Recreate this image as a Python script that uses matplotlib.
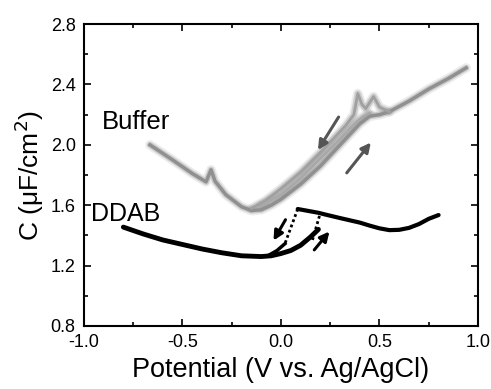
import numpy as np
import matplotlib.pyplot as plt
from matplotlib.ticker import MultipleLocator

plt.rcParams['font.family'] = ['Liberation Sans', 'DejaVu Sans']
plt.rcParams['axes.unicode_minus'] = False

# buffer, forward scan (lower branch)
buf_fx = [-0.665, -0.55, -0.45, -0.38, -0.355, -0.335, -0.28, -0.2, -0.15, -0.1, -0.05,
          0.0, 0.05, 0.1, 0.15, 0.2, 0.25, 0.3, 0.35, 0.4, 0.45, 0.5, 0.55, 0.65, 0.75, 0.85, 0.94]
buf_fy = [2.0, 1.9, 1.81, 1.755, 1.835, 1.76, 1.67, 1.59, 1.565, 1.57, 1.6,
          1.64, 1.69, 1.74, 1.8, 1.86, 1.93, 2.0, 2.07, 2.14, 2.19, 2.2, 2.22, 2.29, 2.37, 2.44, 2.51]
# buffer, reverse scan (upper branch)
buf_rx = [0.55, 0.5, 0.47, 0.43, 0.41, 0.39, 0.37, 0.33, 0.28, 0.2, 0.1, 0.0, -0.08, -0.15]
buf_ry = [2.22, 2.25, 2.32, 2.24, 2.27, 2.34, 2.2, 2.13, 2.06, 1.95, 1.82, 1.71, 1.63, 1.58]
buf_mx = [0.45, 0.42, 0.38, 0.3, 0.2, 0.1, 0.0, -0.1]
buf_my = [2.21, 2.19, 2.15, 2.04, 1.91, 1.78, 1.67, 1.6]

# DDAB, forward scan
dd_fx = [-0.8, -0.7, -0.6, -0.5, -0.4, -0.3, -0.2, -0.1, -0.05, 0.0, 0.05, 0.1, 0.15, 0.19]
dd_fy = [1.455, 1.41, 1.37, 1.34, 1.31, 1.285, 1.265, 1.26, 1.265, 1.28, 1.3, 1.335, 1.39, 1.44]
# DDAB, reverse scan
dd_rx = [0.8, 0.75, 0.7, 0.65, 0.6, 0.55, 0.5, 0.45, 0.4, 0.3, 0.22, 0.19, 0.085]
dd_ry = [1.535, 1.51, 1.475, 1.45, 1.437, 1.435, 1.447, 1.465, 1.485, 1.515, 1.54, 1.55, 1.575]
dd_rtail_x = [0.02, -0.02, -0.06]
dd_rtail_y = [1.345, 1.3, 1.27]
# fast jumps drawn dotted
jump1_x = [0.085, 0.02]
jump1_y = [1.575, 1.345]
jump2_x = [0.16, 0.2]
jump2_y = [1.37, 1.55]

fig = plt.figure(figsize=(4.91, 3.89), dpi=100)
ax = fig.add_axes([0.171, 0.162, 0.8025, 0.776])

for w, a in [(7, 0.15), (4.5, 0.35)]:
    ax.plot(buf_fx, buf_fy, color='#8c8c8c', lw=w, alpha=a, solid_capstyle='round')
    ax.plot(buf_rx, buf_ry, color='#8c8c8c', lw=w, alpha=a, solid_capstyle='round')
    ax.plot(buf_mx, buf_my, color='#8c8c8c', lw=w, alpha=a, solid_capstyle='round')
ax.plot(buf_fx, buf_fy, color='#909090', lw=2.5)
ax.plot(buf_rx, buf_ry, color='#a0a0a0', lw=2)
ax.plot(buf_mx, buf_my, color='#a8a8a8', lw=1.8)

ax.plot(dd_fx, dd_fy, color='black', lw=3.5, solid_capstyle='round')
ax.plot(dd_rx, dd_ry, color='black', lw=3, solid_capstyle='round')
ax.plot(dd_rtail_x, dd_rtail_y, color='black', lw=2.5)
ax.plot(jump1_x, jump1_y, color='black', lw=2, ls=(0, (1, 1)))
ax.plot(jump2_x, jump2_y, color='black', lw=2, ls=(0, (1, 1)))

arr_gray = dict(arrowstyle='-|>', color='#555555', lw=2.2, mutation_scale=14)
arr_black = dict(arrowstyle='-|>', color='black', lw=2.2, mutation_scale=14)
ax.annotate('', xy=(0.18, 1.95), xytext=(0.3, 2.2), arrowprops=arr_gray)
ax.annotate('', xy=(0.465, 2.03), xytext=(0.325, 1.8), arrowprops=arr_gray)
ax.annotate('', xy=(-0.045, 1.35), xytext=(0.03, 1.52), arrowprops=arr_black)
ax.annotate('', xy=(0.255, 1.44), xytext=(0.16, 1.29), arrowprops=arr_black)

ax.text(-0.91, 2.15, 'Buffer', fontsize=18.5, va='center', ha='left')
ax.text(-0.965, 1.545, 'DDAB', fontsize=18, va='center', ha='left')

ax.set_xlim(-1.0, 1.0)
ax.set_ylim(0.8, 2.8)
ax.xaxis.set_major_locator(MultipleLocator(0.5))
ax.xaxis.set_minor_locator(MultipleLocator(0.25))
ax.yaxis.set_major_locator(MultipleLocator(0.4))
ax.yaxis.set_minor_locator(MultipleLocator(0.2))
ax.xaxis.set_major_formatter(plt.FormatStrFormatter('%.1f'))
ax.yaxis.set_major_formatter(plt.FormatStrFormatter('%.1f'))
ax.tick_params(which='both', direction='in', top=True, right=True, width=1.2)
ax.tick_params(which='major', length=5, labelsize=13, pad=6)
ax.tick_params(which='minor', length=3)
for s in ax.spines.values():
    s.set_linewidth(1.5)

ax.set_xlabel('Potential (V vs. Ag/AgCl)', fontsize=19.5, labelpad=4)
ax.set_ylabel('C (\u03bcF/cm$^2$)', fontsize=19, labelpad=3)

fig.savefig('out.png', dpi=100)
